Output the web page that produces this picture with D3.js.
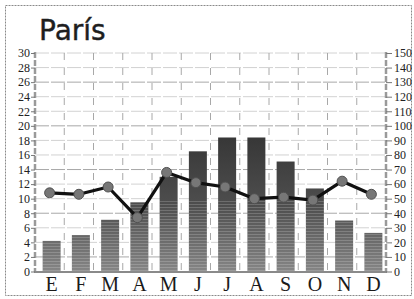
<!DOCTYPE html>
<html><head><meta charset="utf-8">
<script src="https://cdn.jsdelivr.net/npm/d3@7"></script>
<style>html,body{margin:0;padding:0;background:#fff;}svg{display:block;}</style>
</head><body>
<script>
const months = ["E","F","M","A","M","J","J","A","S","O","N","D"];
const temperature = [4.2, 5.0, 7.1, 9.5, 13.0, 16.5, 18.4, 18.4, 15.1, 11.4, 7.0, 5.3];
const precipitation = [54, 53, 58, 37, 68, 61, 58, 50, 51, 49, 62, 53];
const tempTicks = [0,2,4,6,8,10,12,14,16,18,20,22,24,26,28,30];
const precTicks = [0,10,20,30,40,50,60,70,80,90,100,110,120,130,140,150];
const title = "París";

const W = 414, H = 299;
const svg = d3.select("body").append("svg").attr("width", W).attr("height", H);
const defs = svg.append("defs");

const x = d3.scaleBand().domain(d3.range(months.length)).range([35, 386]).padding(0);
const yT = d3.scaleLinear().domain([0, 30]).range([271.5, 53]);
const yP = d3.scaleLinear().domain([0, 150]).range([271.5, 53]);

// border
svg.append("rect").attr("x", 5.5).attr("y", 5.5).attr("width", 406).attr("height", 290)
  .attr("fill", "none").attr("stroke", "#8a8a8a").attr("stroke-width", 1).attr("stroke-dasharray", "2,1");

// title
svg.append("text").attr("x", 39).attr("y", 40).text(title)
  .attr("font-family", "DejaVu Sans").attr("font-size", 28).attr("fill", "#1e1e1e")
  .attr("stroke", "#1e1e1e").attr("stroke-width", 0.4);

// gradient for bars
const grad = defs.append("linearGradient").attr("id", "bg").attr("gradientUnits", "userSpaceOnUse")
  .attr("x1", 0).attr("x2", 0).attr("y1", 271).attr("y2", 140);
grad.append("stop").attr("offset", 0).attr("stop-color", "#858585");
grad.append("stop").attr("offset", 0.5).attr("stop-color", "#4e4e4e");
grad.append("stop").attr("offset", 1).attr("stop-color", "#383838");
const pat = defs.append("pattern").attr("id", "stripes").attr("patternUnits", "userSpaceOnUse")
  .attr("width", 4).attr("height", 3);
pat.append("rect").attr("x", 0).attr("y", 0).attr("width", 4).attr("height", 1).attr("fill", "#fff").attr("opacity", 0.18);

// horizontal gridlines
svg.append("g").selectAll("line").data(tempTicks).join("line")
  .attr("x1", 35).attr("x2", 386).attr("y1", d => yT(d)).attr("y2", d => yT(d))
  .attr("stroke", (d, i) => i % 3 === 1 ? "#a8a8a8" : "#d2d2d2").attr("stroke-width", 1)
  .attr("stroke-dasharray", "14,2");

// vertical gridlines
const vb = d3.range(1, months.length).map(i => x(i));
svg.append("g").selectAll("line").data(vb).join("line")
  .attr("x1", d => d).attr("x2", d => d).attr("y1", 53).attr("y2", 271)
  .attr("stroke", "#a8a8a8").attr("stroke-width", 1).attr("stroke-dasharray", "7,8");

// frame sides
[35, 386].forEach(px => {
  svg.append("line").attr("x1", px).attr("x2", px).attr("y1", 52).attr("y2", 272)
    .attr("stroke", "#9a9a9a").attr("stroke-width", 2.5).attr("stroke-dasharray", "6,2");
});

// bars
const bw = 18;
const bars = svg.append("g");
bars.selectAll("rect.b").data(temperature).join("rect").attr("class", "b")
  .attr("x", (d, i) => x(i) + (x.bandwidth() - bw) / 2 + 2)
  .attr("width", bw)
  .attr("y", d => yT(d)).attr("height", d => yT(0) - yT(d))
  .attr("fill", "url(#bg)");
bars.selectAll("rect.s").data(temperature).join("rect").attr("class", "s")
  .attr("x", (d, i) => x(i) + (x.bandwidth() - bw) / 2 + 2)
  .attr("width", bw)
  .attr("y", d => Math.max(yT(d), 200)).attr("height", d => Math.max(0, yT(0) - Math.max(yT(d), 200)))
  .attr("fill", "url(#stripes)");

// bottom axis line
svg.append("line").attr("x1", 34).attr("x2", 387).attr("y1", 272).attr("y2", 272)
  .attr("stroke", "#8a8a8a").attr("stroke-width", 2);

// axes
const left = svg.append("g").attr("transform", "translate(35,0)")
  .call(d3.axisLeft(yT).tickValues(tempTicks).tickSize(4).tickPadding(1));
const right = svg.append("g").attr("transform", "translate(386,0)")
  .call(d3.axisRight(yP).tickValues(precTicks).tickSize(6).tickPadding(2));
[left, right].forEach(g => {
  g.select(".domain").remove();
  g.selectAll("line").attr("stroke", "#777");
  g.selectAll("text").attr("font-family", "Liberation Serif").attr("font-size", 12).attr("fill", "#222");
});

// month labels
svg.append("g").selectAll("text").data(months).join("text")
  .attr("x", (d, i) => x(i) + x.bandwidth() / 2 + 2).attr("y", 291)
  .attr("text-anchor", "middle").attr("font-family", "Liberation Serif").attr("font-size", 20)
  .attr("fill", "#1a1a1a").text(d => d);

// precipitation line
const line = d3.line().x((d, i) => x(i) + x.bandwidth() / 2).y(d => yP(d));
svg.append("path").datum(precipitation).attr("d", line)
  .attr("fill", "none").attr("stroke", "#111").attr("stroke-width", 3.2).attr("stroke-linejoin", "round");
svg.append("g").selectAll("circle").data(precipitation).join("circle")
  .attr("cx", (d, i) => x(i) + x.bandwidth() / 2).attr("cy", d => yP(d)).attr("r", 5)
  .attr("fill", "#777").attr("stroke", "#505050").attr("stroke-width", 1);
</script>
</body></html>
